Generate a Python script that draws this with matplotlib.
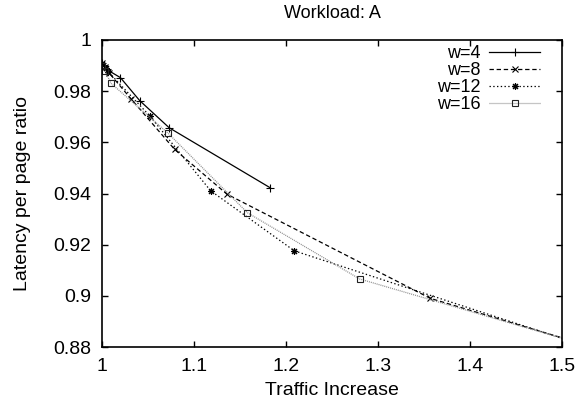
import matplotlib
matplotlib.use("Agg")
import matplotlib.pyplot as plt

plt.rcParams['font.family'] = ['Liberation Sans', 'DejaVu Sans']

title = "Workload: A"
x_label = "Traffic Increase"
y_label = "Latency per page ratio"
series_names = ["w=4", "w=8", "w=12", "w=16"]

w4_x = [1.000, 1.002, 1.005, 1.020, 1.041, 1.073, 1.183]
w4_y = [0.9912, 0.9900, 0.9885, 0.9853, 0.9763, 0.9657, 0.9422]

w8_x = [1.000, 1.003, 1.008, 1.032, 1.079, 1.136, 1.357, 1.600]
w8_y = [0.9910, 0.9895, 0.9870, 0.9768, 0.9572, 0.9397, 0.8990, 0.8728]

w12_x = [1.000, 1.004, 1.007, 1.052, 1.118, 1.209, 1.600]
w12_y = [0.9905, 0.9890, 0.9875, 0.9703, 0.9411, 0.9176, 0.8716]

w16_x = [1.000, 1.003, 1.010, 1.072, 1.158, 1.280, 1.600]
w16_y = [0.9900, 0.9880, 0.9830, 0.9635, 0.9325, 0.9066, 0.8729]

x_ticks = [1.0, 1.1, 1.2, 1.3, 1.4, 1.5]
x_tick_labels = ["1", "1.1", "1.2", "1.3", "1.4", "1.5"]
y_ticks = [0.88, 0.90, 0.92, 0.94, 0.96, 0.98, 1.00]
y_tick_labels = ["0.88", "0.9", "0.92", "0.94", "0.96", "0.98", "1"]

fig = plt.figure(figsize=(5.78, 4.08), dpi=100)
ax = fig.add_axes([102/578, 1-347/408, 460/578, 307/408])

FS = 14
lw = 0.9
ax.plot(w4_x, w4_y, color='black', linestyle='-', linewidth=lw,
        marker='+', markersize=6, markeredgewidth=0.8, label=series_names[0])
ax.plot(w8_x, w8_y, color='black', linestyle=(0, (3.5, 2.2)), linewidth=lw,
        marker='x', markersize=4.5, markeredgewidth=0.8, label=series_names[1])
ax.plot(w12_x, w12_y, color='black', linestyle=(0, (1.1, 1.9)), linewidth=lw,
        marker=(8, 2, 0), markersize=5, markeredgewidth=0.8, label=series_names[2])
ax.plot(w16_x, w16_y, color='#8c8c8c', linestyle=(0, (0.8, 0.8)), linewidth=lw,
        marker='s', markersize=5, markerfacecolor='none', markeredgecolor='#222222',
        markeredgewidth=0.8, label=series_names[3])

ax.set_xlim(1.0, 1.5)
ax.set_ylim(0.88, 1.0)
ax.set_xticks(x_ticks)
ax.set_xticklabels(x_tick_labels)
ax.set_yticks(y_ticks)
ax.set_yticklabels(y_tick_labels)
ax.tick_params(direction='in', length=4, width=1, top=True, right=True,
               labelsize=FS, pad=8)
for s in ax.spines.values():
    s.set_linewidth(1.2)

ax.set_title(title, fontsize=13, pad=16)
ax.set_xlabel(x_label, fontsize=FS, labelpad=5)
ax.set_ylabel(y_label, fontsize=FS, labelpad=16)

leg = ax.legend(loc='upper right', frameon=False, markerfirst=False,
                fontsize=13, handlelength=2.8, handletextpad=0.5,
                labelspacing=0.0, borderaxespad=0, borderpad=0)
leg.set_bbox_to_anchor((540/578, 1-45/408), transform=fig.transFigure)

fig.savefig("out.png", dpi=100)
